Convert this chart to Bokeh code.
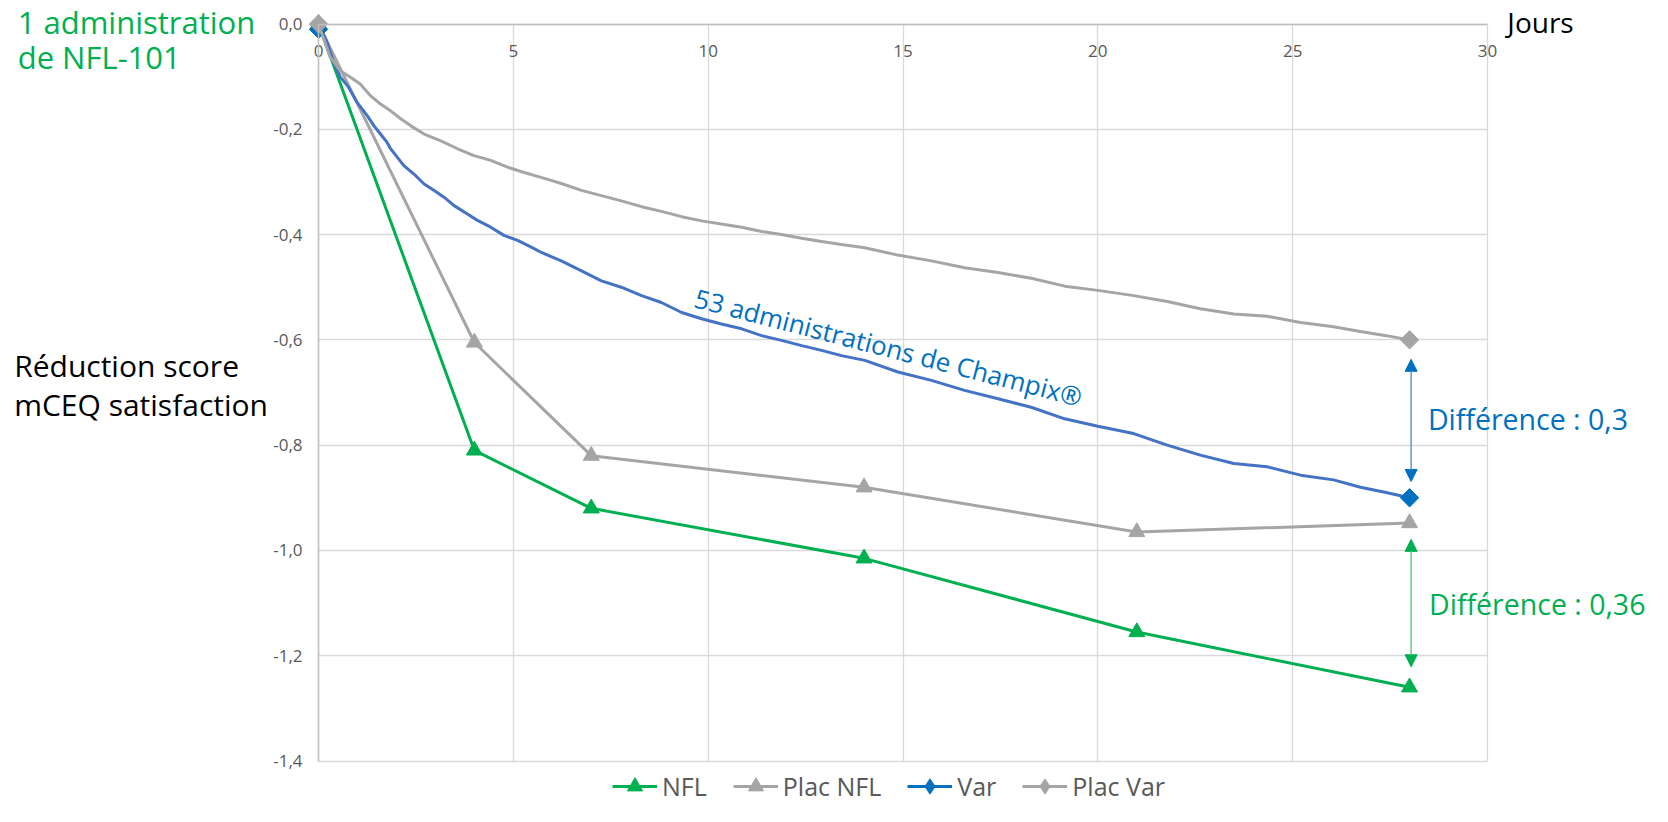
from bokeh.plotting import figure
from bokeh.models import (Range1d, FixedTicker, Label, Arrow, NormalHead,
                          Legend, LegendItem, LinearAxis, Grid)
from bokeh.embed import file_html
from bokeh.resources import INLINE

# ---------------- data ----------------
nfl_days = [0, 4, 7, 14, 21, 28]
nfl_vals = [0.0, -0.81, -0.92, -1.015, -1.155, -1.26]

plac_nfl_days = [0, 4, 7, 14, 21, 28]
plac_nfl_vals = [0.0, -0.605, -0.82, -0.88, -0.965, -0.948]

var_days = [0.0, 0.09, 0.22, 0.39, 0.56, 0.77, 0.99, 1.25, 1.42, 1.59, 1.76, 1.85,
            2.02, 2.19, 2.45, 2.71, 2.96, 3.22, 3.48, 3.82, 4.08, 4.42, 4.77, 5.11,
            5.46, 5.72, 6.23, 6.75, 7.26, 7.77, 8.29, 8.80, 9.32, 9.83, 10.34, 10.86,
            11.37, 11.88, 12.40, 12.91, 13.42, 14.02, 14.87, 15.73, 16.58, 17.44,
            18.29, 19.15, 20.00, 20.92, 21.78, 22.63, 23.49, 24.34, 25.20, 26.05,
            26.74, 27.40, 28.00]
var_vals = [-0.010, -0.013, -0.035, -0.073, -0.101, -0.120, -0.149, -0.174, -0.193,
            -0.209, -0.225, -0.237, -0.253, -0.269, -0.285, -0.304, -0.316, -0.329,
            -0.345, -0.361, -0.373, -0.386, -0.402, -0.411, -0.424, -0.434, -0.450,
            -0.469, -0.488, -0.500, -0.516, -0.529, -0.548, -0.560, -0.570, -0.579,
            -0.592, -0.601, -0.611, -0.620, -0.630, -0.639, -0.661, -0.677, -0.696,
            -0.712, -0.728, -0.750, -0.764, -0.778, -0.800, -0.819, -0.835, -0.841,
            -0.857, -0.866, -0.880, -0.890, -0.900]

plac_var_days = [0.0, 0.30, 0.56, 0.82, 1.07, 1.33, 1.59, 1.85, 2.11, 2.36, 2.71, 3.14,
                 3.57, 3.99, 4.42, 4.85, 5.28, 5.97, 6.23, 6.75, 7.26, 7.77, 8.29, 8.80,
                 9.32, 9.83, 10.34, 10.86, 11.37, 11.88, 12.40, 12.91, 13.42, 14.02,
                 14.87, 15.73, 16.58, 17.44, 18.29, 19.15, 20.00, 20.92, 21.78, 22.63,
                 23.49, 24.34, 25.20, 26.05, 26.74, 27.40, 28.00]
plac_var_vals = [0.0, -0.063, -0.089, -0.101, -0.114, -0.136, -0.152, -0.165, -0.180,
                 -0.193, -0.209, -0.222, -0.237, -0.250, -0.259, -0.272, -0.282, -0.297,
                 -0.303, -0.316, -0.326, -0.336, -0.347, -0.356, -0.366, -0.374, -0.380,
                 -0.386, -0.394, -0.400, -0.407, -0.413, -0.419, -0.425, -0.439, -0.450,
                 -0.463, -0.472, -0.483, -0.498, -0.506, -0.516, -0.527, -0.541, -0.551,
                 -0.555, -0.567, -0.575, -0.584, -0.592, -0.600]

x_ticks = [0, 5, 10, 15, 20, 25, 30]
x_tick_labels = ["0", "5", "10", "15", "20", "25", "30"]
y_ticks = [0.0, -0.2, -0.4, -0.6, -0.8, -1.0, -1.2, -1.4]
y_tick_labels = ["0,0", "-0,2", "-0,4", "-0,6", "-0,8", "-1,0", "-1,2", "-1,4"]

series_names = ["NFL", "Plac NFL", "Var", "Plac Var"]

# ---------------- layout / styles ----------------
GREEN = "#00B050"
GRAY = "#A5A5A5"
BLUE_LINE = "#4472C4"
BLUE = "#0070C0"
FONT = "Open Sans"
NAN = float("nan")

W, H = 1652, 806
PLOT_L, PLOT_T, PLOT_W, PLOT_H = 318, 23.5, 1169, 737  # pixel box of the 0..30 x 0..-1.4 area
X0, X1 = x_ticks[0], x_ticks[-1]
Y0, Y1 = y_ticks[-1], y_ticks[0]
kx = PLOT_W / (X1 - X0)
ky = PLOT_H / (Y1 - Y0)
x_range = Range1d(X0 - PLOT_L / kx, X1 + (W - PLOT_L - PLOT_W) / kx)
y_range = Range1d(Y0 - (H - PLOT_T - PLOT_H) / ky, Y1 + PLOT_T / ky)

p = figure(frame_width=W, frame_height=H, min_border=0,
           x_range=x_range, y_range=y_range,
           x_axis_type=None, y_axis_type=None,
           output_backend="svg", toolbar_location=None)
p.background_fill_color = "white"
p.border_fill_color = "white"
p.outline_line_color = None

# grid
has_cb = "cross_bounds" in Grid.properties()
gx = Grid(dimension=0, ticker=FixedTicker(ticks=x_ticks), bounds=(X0, X1))
gy = Grid(dimension=1, ticker=FixedTicker(ticks=y_ticks), bounds=(Y0, Y1))
if has_cb:
    gx.cross_bounds = (Y0, Y1)
    gy.cross_bounds = (X0, X1)
for g in (gx, gy):
    g.grid_line_color = "#D9D9D9"
    g.grid_line_width = 1.3
    p.add_layout(g)
if not has_cb:
    p.segment(x0=x_ticks, y0=[Y0] * len(x_ticks), x1=x_ticks, y1=[Y1] * len(x_ticks),
              line_color="#D9D9D9", line_width=1.3, level="underlay")
    p.segment(x0=[X0] * len(y_ticks), y0=y_ticks, x1=[X1] * len(y_ticks), y1=y_ticks,
              line_color="#D9D9D9", line_width=1.3, level="underlay")

# axes placed at the data origin
xa = LinearAxis(ticker=FixedTicker(ticks=x_ticks), fixed_location=Y1, bounds=(X0, X1))
xa.major_label_overrides = dict(zip(x_ticks, x_tick_labels))
xa.major_label_standoff = -33
ya = LinearAxis(ticker=FixedTicker(ticks=y_ticks), fixed_location=X0, bounds=(Y0, Y1))
ya.major_label_overrides = dict(zip(y_ticks, y_tick_labels))
ya.major_label_standoff = 16
for ax in (xa, ya):
    ax.major_tick_out = 0
    ax.major_tick_in = 0
    ax.minor_tick_out = 0
    ax.minor_tick_in = 0
    ax.axis_line_color = "#BFBFBF"
    ax.axis_line_width = 1.5
    ax.major_label_text_font = FONT
    ax.major_label_text_font_size = "17px"
    ax.major_label_text_color = "#595959"
p.add_layout(xa, "above")
p.add_layout(ya, "left")

# series
r_nfl_l = p.line(nfl_days, nfl_vals, line_color=GREEN, line_width=3)
r_nfl_m = p.scatter(nfl_days, nfl_vals, marker="triangle", size=16,
                    fill_color=GREEN, line_color=GREEN)
r_pn_l = p.line(plac_nfl_days, plac_nfl_vals, line_color=GRAY, line_width=3)
r_pn_m = p.scatter(plac_nfl_days, plac_nfl_vals, marker="triangle", size=16,
                   fill_color=GRAY, line_color=GRAY)
r_var_l = p.line(var_days, var_vals, line_color=BLUE_LINE, line_width=3)
r_var_m = p.scatter([var_days[0], var_days[-1]], [var_vals[0], var_vals[-1]],
                    marker="square", angle=0.785398, size=13,
                    fill_color=BLUE, line_color=BLUE)
r_pv_l = p.line(plac_var_days, plac_var_vals, line_color=GRAY, line_width=3)
r_pv_m = p.scatter([plac_var_days[0], plac_var_days[-1]],
                   [plac_var_vals[0], plac_var_vals[-1]],
                   marker="square", angle=0.785398, size=13,
                   fill_color=GRAY, line_color=GRAY)
# legend-only proxies (no visible data)
leg_var_line = p.line([NAN], [NAN], line_color=BLUE, line_width=3)
leg_var_mark = p.scatter([NAN], [NAN], marker="diamond", fill_color=BLUE, line_color=BLUE)
leg_pv_mark = p.scatter([NAN], [NAN], marker="diamond", fill_color=GRAY, line_color=GRAY)

legend = Legend(items=[
    LegendItem(label=series_names[0], renderers=[r_nfl_l, r_nfl_m]),
    LegendItem(label=series_names[1], renderers=[r_pn_l, r_pn_m]),
    LegendItem(label=series_names[2], renderers=[leg_var_line, leg_var_mark]),
    LegendItem(label=series_names[3], renderers=[r_pv_l, leg_pv_mark]),
], orientation="horizontal", location=(612, 1), padding=0, margin=0,
    border_line_color=None, background_fill_alpha=0,
    glyph_width=45, glyph_height=38, label_standoff=5, spacing=26,
    label_text_font=FONT, label_text_font_size="25px",
    label_text_color="#595959")
p.add_layout(legend)

# arrows (difference markers at the last day)
ax_x = nfl_days[-1] + 0.04
p.add_layout(Arrow(
    start=NormalHead(size=12, fill_color=BLUE, line_color=BLUE),
    end=NormalHead(size=12, fill_color=BLUE, line_color=BLUE),
    x_start=ax_x, y_start=plac_var_vals[-1] - 0.037,
    x_end=ax_x, y_end=var_vals[-1] + 0.031,
    line_color="#5B9BD5", line_width=1.5))
p.add_layout(Arrow(
    start=NormalHead(size=12, fill_color=GREEN, line_color=GREEN),
    end=NormalHead(size=12, fill_color=GREEN, line_color=GREEN),
    x_start=ax_x, y_start=plac_nfl_vals[-1] - 0.031,
    x_end=ax_x, y_end=nfl_vals[-1] + 0.039,
    line_color="#5FCB8E", line_width=1.5))

# texts
def lab(x, y, text, color, size, angle=0.0):
    p.add_layout(Label(x=x, y=y, text=text, text_color=color,
                       text_font=FONT, text_font_size=size,
                       text_align="left", text_baseline="middle",
                       angle=angle, angle_units="rad"))

lab(-7.72, 0.004, "1 administration", GREEN, "31px")
lab(-7.72, -0.063, "de NFL-101", GREEN, "31px")
lab(30.51, 0.004, "Jours", "black", "28px")
lab(-7.81, -0.648, "Réduction score", "black", "30px")
lab(-7.81, -0.722, "mCEQ satisfaction", "black", "30px")
lab(28.47, -0.750, "Différence : 0,3", BLUE, "28.5px")
lab(28.50, -1.102, "Différence : 0,36", GREEN, "28.5px")
lab(9.67, -0.519, "53 administrations de Champix®", BLUE, "26px", angle=-0.253)

open("out.html", "w").write(file_html(p, INLINE))
